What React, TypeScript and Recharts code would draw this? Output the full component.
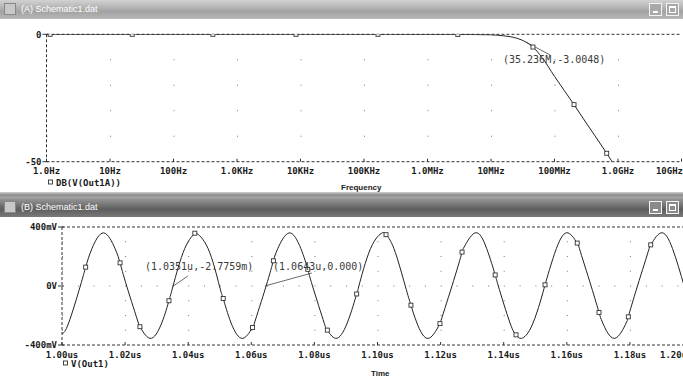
import React from 'react';
import { LineChart, Line, XAxis, YAxis, ReferenceLine, ReferenceDot } from 'recharts';

// ---------- Panel (A): DB(V(Out1A)) vs Frequency ----------
const freqTicks = [1, 10, 100, 1e3, 1e4, 1e5, 1e6, 1e7, 1e8, 1e9, 1e10];
const freqTickLabels = ['1.0Hz', '10Hz', '100Hz', '1.0KHz', '10KHz', '100KHz', '1.0MHz', '10MHz', '100MHz', '1.0GHz', '10GHz'];
const gainTicks = [-50, -40, -30, -20, -10, 0];
const gainTickLabels = ['-50', '', '', '', '', '0'];
const gainGrid = [-40, -30, -20, -10];

const freqHz = [1, 1.14, 22.4, 417, 8500, 166000, 3.0e6, 1.0e7, 1.585e7, 2.512e7, 3.5236e7, 4.58e7, 6.31e7, 1.0e8, 2.03e8, 3.16e8, 6.64e8, 7.94e8, 1.0e9];
const gainDb = [0, 0, 0, 0, 0, 0, -0.05, -0.2, -0.6, -1.5, -3.0048, -5.0, -9.0, -16.5, -27.6, -34.8, -46.7, -49.7, -53.5];
const gainMarked = [false, true, true, true, true, true, true, false, false, false, false, true, false, false, true, false, true, false, false];

const gainCursor = [3.5236e7, -3.0048];
const gainLeaderEnd = [8.49e7, -8.1];
const gainLabelAt = [1.545e7, -9.7];
const gainLabel = '(35.236M,-3.0048)';

// ---------- Panel (B): V(Out1) vs Time ----------
const timeTicks = [1.0, 1.02, 1.04, 1.06, 1.08, 1.1, 1.12, 1.14, 1.16, 1.18, 1.2];
const timeTickLabels = ['1.00us', '1.02us', '1.04us', '1.06us', '1.08us', '1.10us', '1.12us', '1.14us', '1.16us', '1.18us', '1.20us'];
const voltTicks = [-400, -300, -200, -100, 0, 100, 200, 300, 400];
const voltTickLabels = ['-400mV', '', '', '', '0V', '', '', '', '400mV'];
const voltGrid = [-300, -200, -100, 100, 200, 300];

const timeUs = [
  1.0, 1.0021, 1.0058, 1.0095, 1.0132, 1.0168, 1.0205, 1.0242, 1.0279, 1.0316,
  1.0352, 1.0389, 1.0426, 1.0463, 1.0499, 1.0536, 1.0573, 1.061,
  1.0647, 1.0684, 1.072, 1.0757, 1.0794, 1.0831, 1.0868, 1.0904,
  1.0941, 1.0978, 1.1015, 1.1052, 1.1088, 1.1125, 1.1162, 1.1199,
  1.1236, 1.1272, 1.1309, 1.1346, 1.1383, 1.142, 1.1456, 1.1493,
  1.153, 1.1567, 1.1604, 1.164, 1.1677, 1.1714, 1.1751, 1.1788,
  1.1824, 1.1861, 1.1898, 1.1935, 1.1972, 1.2,
];
const outMv = [
  -325, -251, 0, 254, 360, 254, 0, -251, -355, -251,
  0, 254, 360, 254, 0, -251, -355, -251,
  0, 254, 360, 254, 0, -251, -355, -251,
  0, 254, 360, 254, 0, -251, -355, -251,
  0, 254, 360, 254, 0, -251, -355, -251,
  0, 254, 360, 254, 0, -251, -355, -251,
  0, 254, 360, 254, 0, -202,
];
const markTimeUs = [1.0075, 1.0184, 1.0247, 1.0339, 1.0421, 1.0511, 1.0604, 1.067, 1.0779, 1.0841, 1.0934, 1.1027, 1.1106, 1.1198, 1.1268, 1.1373, 1.1439, 1.1531, 1.1633, 1.1702, 1.1795, 1.1866];
const markMv = [128, 157, -276, -100, 358, -85, -281, 171, 113, -299, -54, 348, -130, -255, 230, 75, -331, 8, 291, -179, -209, 279];

const cursorA = [1.0351, -2.7759];
const cursorALeaderEnd = [1.0399, 68];
const cursorALabelAt = [1.0263, 129];
const cursorALabel = '(1.0351u,-2.7759m)';
const cursorB = [1.0643, 0];
const cursorBLeaderEnd = [1.0792, 88];
const cursorBLabelAt = [1.0669, 129];
const cursorBLabel = '(1.0643u,0.000)';

// ---------- styles ----------
const axisFont: React.CSSProperties = { fontFamily: 'DejaVu Sans Mono', fontWeight: 700, fontSize: 9 };
const noteFont: React.CSSProperties = { fontFamily: 'DejaVu Sans Mono', fontSize: 10 };
const INK = '#1a1a1a';
const DOT = '#777';

const squareDot = (p: any) => {
  const { cx, cy, payload, index } = p;
  if (!payload || !payload.m || cx == null || cy == null) return <g key={`d${index}`} />;
  return <rect key={`d${index}`} x={cx - 2} y={cy - 2} width={4} height={4} fill="#fff" stroke="#333" strokeWidth={0.9} />;
};

const FreqTick = (props: any) => {
  const { x, y, payload } = props;
  const i = freqTicks.findIndex((v) => Math.abs(Math.log10(v) - Math.log10(payload.value)) < 1e-6);
  const last = i === freqTicks.length - 1;
  return (
    <g>
      <line x1={x} x2={x} y1={y - 3} y2={y} stroke="#333" strokeWidth={1} />
      <text x={last ? 683 : x} y={y + 12.5} textAnchor={last ? 'end' : 'middle'} fill={INK} style={axisFont}>
        {freqTickLabels[i]}
      </text>
    </g>
  );
};

const TimeTick = (props: any) => {
  const { x, y, payload } = props;
  const i = timeTicks.findIndex((v) => Math.abs(v - payload.value) < 1e-6);
  const last = i === timeTicks.length - 1;
  return (
    <g>
      <line x1={x} x2={x} y1={y - 3} y2={y} stroke="#333" strokeWidth={1} />
      <text x={last ? x - 33 : x} y={y + 12.5} textAnchor={last ? 'start' : 'middle'} fill={INK} style={axisFont}>
        {timeTickLabels[i]}
      </text>
    </g>
  );
};

const makeYTick = (ticks: number[], labels: string[]) => (props: any) => {
  const { x, y, payload } = props;
  const i = ticks.findIndex((v) => Math.abs(v - payload.value) < 1e-6);
  const label = labels[i];
  if (!label) return <g />;
  return (
    <g>
      <line x1={x - 4} x2={x + 2} y1={y} y2={y} stroke="#333" strokeWidth={1} />
      <text x={x - 5} y={y + 3.3} textAnchor="end" fill={INK} style={axisFont}>
        {label}
      </text>
    </g>
  );
};
const GainTick = makeYTick(gainTicks, gainTickLabels);
const VoltTick = makeYTick(voltTicks, voltTickLabels);

const noteShape = (text: string) => (p: any) =>
  p.cx == null ? <g /> : (
    <text x={p.cx} y={p.cy + 3.5} fill="#3a3a3a" style={noteFont}>
      {text}
    </text>
  );

const TitleBar = ({ top, label, active }: { top: number; label: string; active: boolean }) => {
  const bg = active
    ? 'linear-gradient(#9a9a9a 0%, #6c6c6c 45%, #5e5e5e 60%, #7a7a7a 100%)'
    : 'linear-gradient(#d2d2d2 0%, #b0b0b0 45%, #a2a2a2 60%, #b8b8b8 100%)';
  const btn = (left: number, glyph: 'min' | 'max') => (
    <div
      style={{
        position: 'absolute', left, top: 3, width: 13, height: 13, boxSizing: 'border-box',
        border: '1px solid #f4f4f4', background: active ? '#8a8a8a' : '#a8a8a8',
      }}
    >
      {glyph === 'min' ? (
        <div style={{ position: 'absolute', left: 3, top: 7, width: 5, height: 2, background: '#fff' }} />
      ) : (
        <div style={{ position: 'absolute', left: 2, top: 2, width: 7, height: 7, boxSizing: 'border-box', border: '1px solid #fff', borderTopWidth: 2 }} />
      )}
    </div>
  );
  return (
    <div style={{ position: 'absolute', left: 0, top, width: 683, height: 19, background: bg }}>
      <div style={{ position: 'absolute', left: 4, top: 3, width: 12, height: 12, background: '#c8c8c8', border: '1px solid #888', boxSizing: 'border-box' }} />
      <div style={{ position: 'absolute', left: 21, top: 3, fontFamily: 'Liberation Sans', fontSize: 9, color: '#fff', lineHeight: '12px', whiteSpace: 'nowrap' }}>
        {label}
      </div>
      {btn(649, 'min')}
      {btn(666, 'max')}
    </div>
  );
};

export default function App() {
  const topData = freqHz.map((f, i) => ({ f, db: gainDb[i], m: gainMarked[i] }));
  const bottomData = [
    ...timeUs.map((t, i) => ({ t, v: outMv[i], m: false })),
    ...markTimeUs.map((t, i) => ({ t, v: markMv[i], m: true })),
  ].sort((a, b) => a.t - b.t);

  return (
    <div style={{ position: 'absolute', left: 0, top: 0, width: 683, height: 378, overflow: 'hidden', background: '#fff' }}>
      {/* Panel A chart */}
      <div style={{ position: 'absolute', left: 0, top: 0 }}>
        <LineChart width={683} height={190} data={topData} margin={{ top: 34.3, right: 1.5, bottom: 8.3, left: 0 }}>
          <XAxis
            dataKey="f" type="number" scale="log" domain={[1, 1e10]} ticks={freqTicks} interval={0}
            height={20} tickSize={0} tickMargin={0} tick={<FreqTick />}
            axisLine={{ stroke: '#333', strokeDasharray: '3 2' }} tickLine={false} allowDataOverflow
          />
          <YAxis
            type="number" domain={[-50, 0]} ticks={gainTicks} interval={0} width={46.5}
            tickSize={0} tickMargin={0} tick={<GainTick />}
            axisLine={{ stroke: '#333', strokeDasharray: '3 2' }} tickLine={false} allowDataOverflow
          />
          {gainGrid.map((g) => (
            <ReferenceLine key={g} y={g} stroke={DOT} strokeDasharray="1 62.5" />
          ))}
          <ReferenceLine y={0} stroke="#333" strokeDasharray="3 2" />
          <Line dataKey="db" type="monotone" stroke="#222" strokeWidth={1} dot={squareDot} isAnimationActive={false} />
          <ReferenceLine
            segment={[{ x: gainCursor[0], y: gainCursor[1] }, { x: gainLeaderEnd[0], y: gainLeaderEnd[1] }]}
            stroke="#444" strokeWidth={0.8}
          />
          <ReferenceDot x={gainLabelAt[0]} y={gainLabelAt[1]} r={0} shape={noteShape(gainLabel)} />
        </LineChart>
      </div>

      {/* Panel B chart */}
      <div style={{ position: 'absolute', left: 0, top: 217 }}>
        <LineChart width={700} height={161} data={bottomData} margin={{ top: 10, right: 7, bottom: 13, left: 0 }}>
          <XAxis
            dataKey="t" type="number" domain={[1.0, 1.2]} ticks={timeTicks} interval={0}
            height={20} tickSize={0} tickMargin={0} tick={<TimeTick />}
            axisLine={{ stroke: '#333', strokeDasharray: '3 2' }} tickLine={false} allowDataOverflow
          />
          <YAxis
            type="number" domain={[-400, 400]} ticks={voltTicks} interval={0} width={62}
            tickSize={0} tickMargin={0} tick={<VoltTick />}
            axisLine={{ stroke: '#333', strokeDasharray: '3 2' }} tickLine={false} allowDataOverflow
          />
          {voltGrid.map((g) => (
            <ReferenceLine key={g} y={g} stroke={DOT} strokeDasharray="1 62.1" />
          ))}
          <ReferenceLine y={0} stroke={DOT} strokeDasharray="1 14.78" />
          <ReferenceLine y={400} stroke="#333" strokeDasharray="3 2" />
          <Line dataKey="v" type="natural" stroke="#222" strokeWidth={1} dot={squareDot} isAnimationActive={false} />
          <ReferenceLine
            segment={[{ x: cursorA[0], y: cursorA[1] }, { x: cursorALeaderEnd[0], y: cursorALeaderEnd[1] }]}
            stroke="#444" strokeWidth={0.8}
          />
          <ReferenceLine
            segment={[{ x: cursorB[0], y: cursorB[1] }, { x: cursorBLeaderEnd[0], y: cursorBLeaderEnd[1] }]}
            stroke="#444" strokeWidth={0.8}
          />
          <ReferenceDot x={cursorALabelAt[0]} y={cursorALabelAt[1]} r={0} shape={noteShape(cursorALabel)} />
          <ReferenceDot x={cursorBLabelAt[0]} y={cursorBLabelAt[1]} r={0} shape={noteShape(cursorBLabel)} />
        </LineChart>
      </div>

      {/* legends & axis titles */}
      <svg style={{ position: 'absolute', left: 0, top: 0 }} width={683} height={378}>
        <rect x={48.5} y={180} width={4} height={4} fill="#fff" stroke="#333" strokeWidth={0.9} />
        <text x={56} y={185.5} fill={INK} style={axisFont}>DB(V(Out1A))</text>
        <text x={341} y={190} fill={INK} style={{ fontFamily: 'Liberation Sans', fontWeight: 700, fontSize: 8 }}>Frequency</text>
        <rect x={63.5} y={361} width={4} height={4} fill="#fff" stroke="#333" strokeWidth={0.9} />
        <text x={71} y={366.5} fill={INK} style={axisFont}>V(Out1)</text>
        <text x={371} y={375.5} fill={INK} style={{ fontFamily: 'Liberation Sans', fontWeight: 700, fontSize: 8 }}>Time</text>
      </svg>

      {/* window chrome */}
      <TitleBar top={0} label="(A) Schematic1.dat" active={false} />
      <div style={{ position: 'absolute', left: 0, top: 192, width: 683, height: 6, background: 'linear-gradient(#d0d0d0, #8c8c8c 50%, #a8a8a8)' }} />
      <TitleBar top={198} label="(B) Schematic1.dat" active={true} />
    </div>
  );
}
